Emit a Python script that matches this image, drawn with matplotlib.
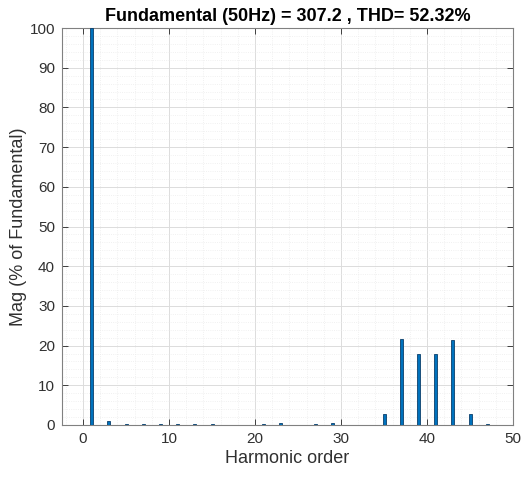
import matplotlib
matplotlib.use("Agg")
import matplotlib.pyplot as plt
from matplotlib.ticker import MultipleLocator

harmonics = [1, 3, 5, 7, 9, 11, 13, 15, 21, 23, 27, 29, 35, 37, 39, 41, 43, 45, 47]
magnitudes = [100, 1.0, 0.2, 0.3, 0.2, 0.2, 0.3, 0.3, 0.2, 0.4, 0.3, 0.5, 2.7, 21.7, 18.0, 18.0, 21.3, 2.7, 0.2]
title = "Fundamental (50Hz) = 307.2 , THD= 52.32%"
xlabel = "Harmonic order"
ylabel = "Mag (% of Fundamental)"

plt.rcParams['font.family'] = ['Liberation Sans', 'DejaVu Sans']
fig = plt.figure(figsize=(5.26, 4.8), dpi=100)
ax = fig.add_axes([62/526, 1-425/480, (513-62)/526, (425-28)/480])

ax.bar(harmonics, magnitudes, width=0.35, color='#0072BD', edgecolor='#0a3f6b', linewidth=0.6, zorder=3)

ax.set_xlim(-2.45, 50)
ax.set_ylim(0, 100)
ax.xaxis.set_major_locator(MultipleLocator(10))
ax.yaxis.set_major_locator(MultipleLocator(10))
ax.xaxis.set_minor_locator(MultipleLocator(2))
ax.yaxis.set_minor_locator(MultipleLocator(2))
ax.grid(True, which='major', color='#dcdcdc', linewidth=0.7, zorder=0)
ax.grid(True, which='minor', color='#ececec', linewidth=0.6, linestyle=':', zorder=0)
ax.tick_params(which='both', direction='in', top=True, right=True, colors='#262626', labelsize=11)
ax.tick_params(which='minor', length=0)
ax.tick_params(which='major', length=4, width=0.6, pad=5)
for s in ax.spines.values():
    s.set_color('#808080')
    s.set_linewidth(0.8)
for lab in ax.get_xticklabels() + ax.get_yticklabels():
    lab.set_color('#303030')

ax.set_title(title, fontsize=13, fontweight='bold', color='black', pad=5)
ax.set_xlabel(xlabel, fontsize=13, color='#303030', labelpad=3)
ax.set_ylabel(ylabel, fontsize=13, color='#303030', labelpad=2)

fig.savefig("out.png", dpi=100, facecolor='white')
